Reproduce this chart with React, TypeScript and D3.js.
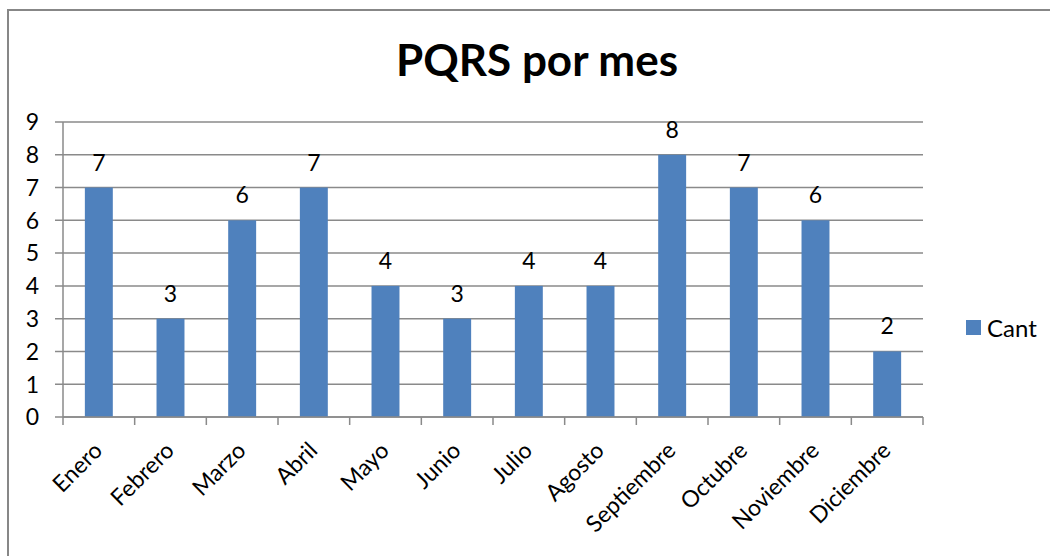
import * as d3 from 'd3';

// chart data
const months = ['Enero', 'Febrero', 'Marzo', 'Abril', 'Mayo', 'Junio', 'Julio', 'Agosto', 'Septiembre', 'Octubre', 'Noviembre', 'Diciembre'];
const cant = [7, 3, 6, 7, 4, 3, 4, 4, 8, 7, 6, 2];
const yTicks = [0, 1, 2, 3, 4, 5, 6, 7, 8, 9];
const seriesName = 'Cant';
const title = 'PQRS por mes';

const W = 1050;
const H = 556;
const FONT = 'Lato, Carlito, Calibri, sans-serif';
const BAR = '#4f81bd';
const GRID = '#8a8a8a';

export default function App() {
  // plot area
  const left = 63, right = 923, top = 122, bottom = 417;

  const x = d3.scaleBand<string>().domain(months).range([left, right]).paddingInner(0.61).paddingOuter(0.305);
  const xb = d3.scaleBand<string>().domain(months).range([left, right]); // full bands for ticks
  const y = d3.scaleLinear().domain([0, 9]).range([bottom, top]);

  return (
    <svg width={W} height={H} style={{ position: 'absolute', left: 0, top: 0, display: 'block' }} fontFamily={FONT}>
      <rect x={0} y={0} width={W} height={H} fill="#fff" />
      {/* chart border (runs off the page on right/bottom) */}
      <rect x={8} y={10} width={W + 20} height={H + 20} fill="none" stroke="#878787" strokeWidth={2} />

      <text x={537} y={76} textAnchor="middle" fontSize={44} fontWeight="bold" fill="#000">{title}</text>

      {/* horizontal gridlines + y ticks */}
      {yTicks.map(t => (
        <g key={t}>
          <line x1={55} x2={right} y1={y(t)} y2={y(t)} stroke={GRID} strokeWidth={1.5} />
          <text x={39} y={y(t)} dy="0.36em" textAnchor="end" fontSize={23} fill="#000">{t}</text>
        </g>
      ))}

      {/* y axis */}
      <line x1={left} x2={left} y1={top} y2={bottom} stroke={GRID} strokeWidth={1.5} />

      {/* x tick marks at band boundaries */}
      {months.map(m => (
        <line key={m} x1={xb(m)!} x2={xb(m)!} y1={bottom} y2={bottom + 8} stroke={GRID} strokeWidth={1.5} />
      ))}
      <line x1={right} x2={right} y1={bottom} y2={bottom + 8} stroke={GRID} strokeWidth={1.5} />

      {/* bars */}
      {months.map((m, i) => (
        <rect key={m} x={x(m)!} y={y(cant[i])} width={x.bandwidth()} height={bottom - y(cant[i])} fill={BAR} />
      ))}

      {/* bar value labels */}
      {months.map((m, i) => (
        <text key={m} x={x(m)! + x.bandwidth() / 2} y={y(cant[i]) - 17} textAnchor="middle" fontSize={23} fill="#000">{cant[i]}</text>
      ))}

      {/* x axis */}
      <line x1={left} x2={right} y1={bottom} y2={bottom} stroke={GRID} strokeWidth={1.5} />

      {/* category labels, rotated */}
      {months.map(m => {
        const cx = xb(m)! + xb.bandwidth() / 2 + 5;
        const cy = bottom + 35;
        return (
          <text key={m} transform={`translate(${cx},${cy}) rotate(-45)`} textAnchor="end" fontSize={23} fill="#000">{m}</text>
        );
      })}

      {/* legend */}
      <rect x={966} y={320} width={15} height={15} fill={BAR} />
      <text x={987} y={337} fontSize={24} fill="#000">{seriesName}</text>
    </svg>
  );
}
